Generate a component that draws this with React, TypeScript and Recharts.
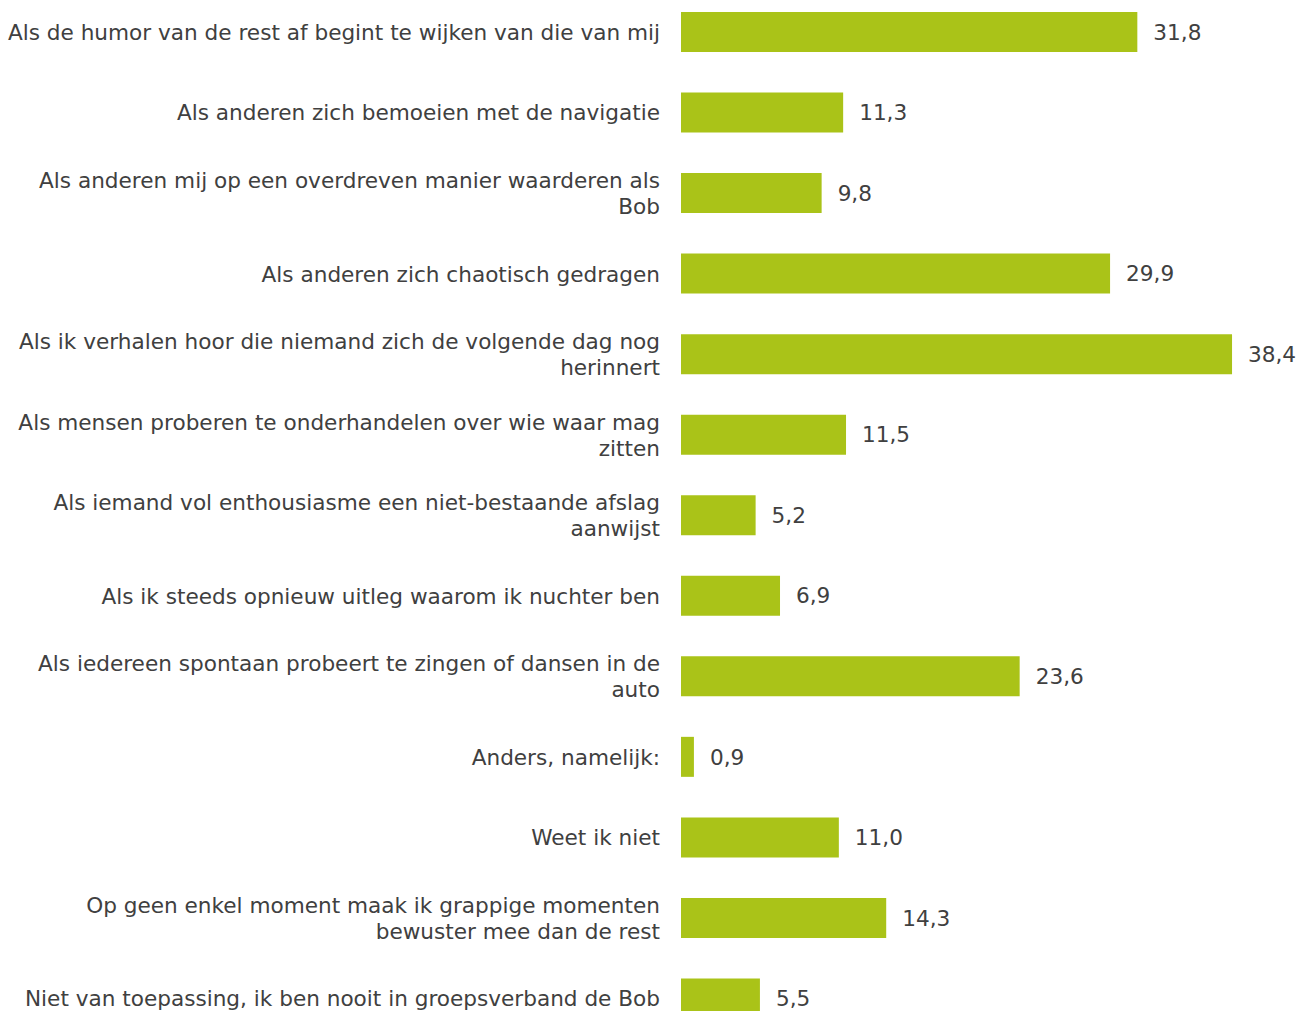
import { BarChart, Bar, XAxis, YAxis, LabelList } from 'recharts'

const categories = [
    'Als de humor van de rest af begint te wijken van die van mij',
    'Als anderen zich bemoeien met de navigatie',
    'Als anderen mij op een overdreven manier waarderen als\nBob',
    'Als anderen zich chaotisch gedragen',
    'Als ik verhalen hoor die niemand zich de volgende dag nog\nherinnert',
    'Als mensen proberen te onderhandelen over wie waar mag\nzitten',
    'Als iemand vol enthousiasme een niet-bestaande afslag\naanwijst',
    'Als ik steeds opnieuw uitleg waarom ik nuchter ben',
    'Als iedereen spontaan probeert te zingen of dansen in de\nauto',
    'Anders, namelijk:',
    'Weet ik niet',
    'Op geen enkel moment maak ik grappige momenten\nbewuster mee dan de rest',
    'Niet van toepassing, ik ben nooit in groepsverband de Bob',
]

const values = [31.8, 11.3, 9.8, 29.9, 38.4, 11.5, 5.2, 6.9, 23.6, 0.9, 11.0, 14.3, 5.5]

const chartData = categories.map((name, i) => ({ name, value: values[i] }))

const FONT = '"DejaVu Sans", Verdana, sans-serif'
const TEXT = '#404040'
const FONT_SIZE = 21.6

// left labels, right aligned, split on \n
function CategoryTick(props: any) {
    const { x, y, payload } = props
    const lines: string[] = String(payload.value).split('\n')
    const lineHeight = 26
    const startY = y - ((lines.length - 1) * lineHeight) / 2
    return (
        <text x={x - 15} y={startY} textAnchor="end" fill={TEXT} fontSize={FONT_SIZE} fontFamily={FONT}>
            {lines.map((l, i) => (
                <tspan key={i} x={x - 15} dy={i === 0 ? '0.355em' : lineHeight}>{l}</tspan>
            ))}
        </text>
    )
}

export default function App() {
    return (
        <div style={{ position: 'absolute', left: 0, top: -8, background: '#fff' }}>
            <BarChart
                layout="vertical"
                width={1298}
                height={1047}
                data={chartData}
                margin={{ top: 0, right: 43, bottom: 0, left: 0 }}
                barCategoryGap={0}
            >
                <XAxis type="number" domain={[0, 40]} hide />
                <YAxis
                    type="category"
                    dataKey="name"
                    width={681}
                    axisLine={false}
                    tickLine={false}
                    tickSize={0}
                    tickMargin={6}
                    interval={0}
                    tick={<CategoryTick />}
                />
                <Bar dataKey="value" fill="#AAC318" barSize={40} isAnimationActive={false}>
                    <LabelList
                        dataKey="value"
                        position="right"
                        offset={16}
                        fill={TEXT}
                        fontSize={FONT_SIZE}
                        fontFamily={FONT}
                        formatter={(v: any) => Number(v).toFixed(1).replace('.', ',')}
                    />
                </Bar>
            </BarChart>
        </div>
    )
}
